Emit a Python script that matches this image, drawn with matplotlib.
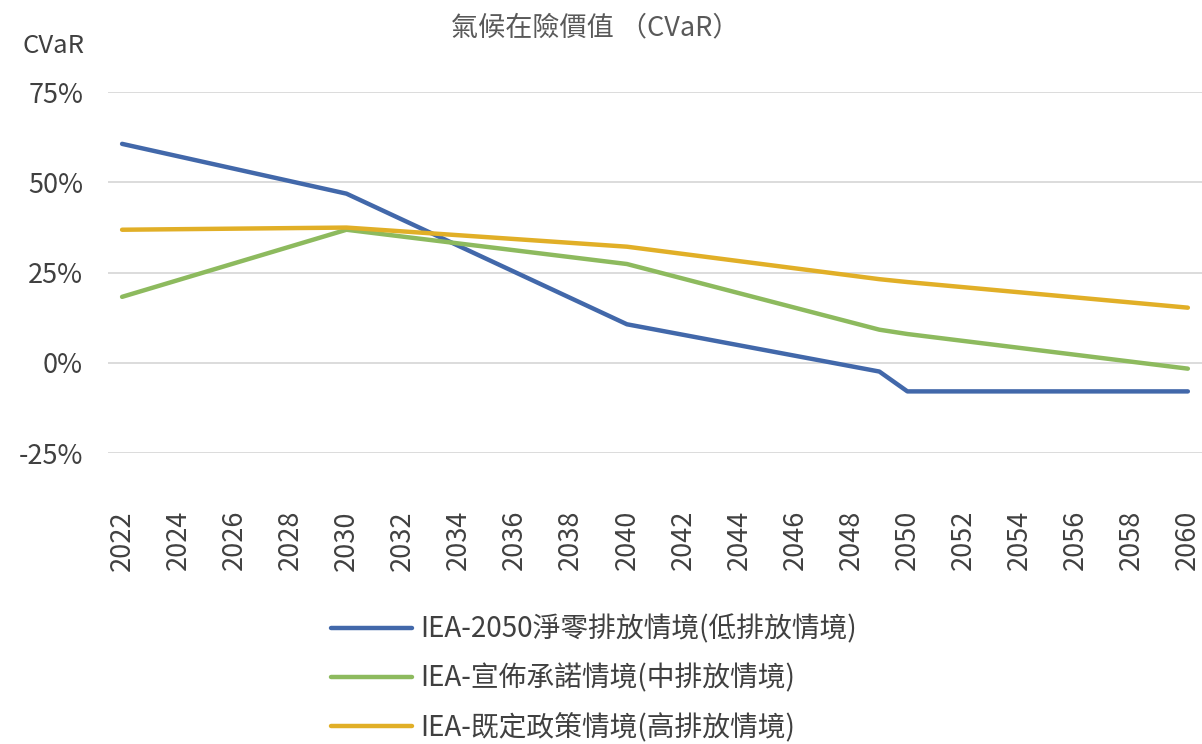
import matplotlib
matplotlib.use('Agg')
import matplotlib.pyplot as plt
from matplotlib.ticker import FuncFormatter

plt.rcParams['font.family'] = ['Noto Sans CJK TC', 'DejaVu Sans']

# values (CVaR, %), at the years where the lines bend
nze_years = [2022, 2030, 2040, 2049, 2050, 2060]
nze_vals = [60.7, 46.9, 10.7, -2.4, -7.9, -7.9]

aps_years = [2022, 2030, 2040, 2049, 2050, 2060]
aps_vals = [18.3, 36.9, 27.4, 9.2, 8.0, -1.6]

steps_years = [2022, 2030, 2040, 2049, 2050, 2060]
steps_vals = [36.9, 37.5, 32.2, 23.2, 22.4, 15.3]

labels = ['IEA-2050淨零排放情境(低排放情境)',
          'IEA-宣佈承諾情境(中排放情境)',
          'IEA-既定政策情境(高排放情境)']
colors = ['#4268AA', '#8DBA5E', '#E1AF27']

year_ticks = list(range(2022, 2061, 2))

fig = plt.figure(figsize=(12.02, 7.44), dpi=100)
ax = fig.add_axes([0.0899, 0.391, 0.91, 0.485])

ax.plot(nze_years, nze_vals, color=colors[0], lw=3.2, label=labels[0], solid_capstyle='round')
ax.plot(aps_years, aps_vals, color=colors[1], lw=3.2, label=labels[1], solid_capstyle='round')
ax.plot(steps_years, steps_vals, color=colors[2], lw=3.2, label=labels[2], solid_capstyle='round')

ax.set_xlim(2021.5, 2060.5)
ax.set_ylim(-25, 75)
ax.set_yticks([-25, 0, 25, 50, 75])
ax.yaxis.set_major_formatter(FuncFormatter(lambda v, p: '%d%%' % v))
ax.set_xticks(year_ticks)
ax.set_xticklabels([str(y) for y in year_ticks], rotation=90)
ax.grid(axis='y', color='#D9D9D9', lw=1.3)
ax.set_axisbelow(True)
for s in ax.spines.values():
    s.set_visible(False)
ax.tick_params(length=0, labelsize=19.5, colors='#404040')
ax.tick_params(axis='y', pad=18)
ax.tick_params(axis='x', pad=41)

fig.text(0.0185, 0.938, 'CVaR', fontsize=18.5, color='#404040', ha='left', va='center')
fig.text(0.495, 0.962, '氣候在險價值 （CVaR）', fontsize=19.5, color='#595959', ha='center', va='center')

fig.legend(loc='center', bbox_to_anchor=(0.494, 0.088), ncol=1, frameon=False,
           fontsize=20, handlelength=2.9, handletextpad=0.3, labelspacing=0.68,
           labelcolor='#404040')

fig.savefig('out.png', dpi=100)
